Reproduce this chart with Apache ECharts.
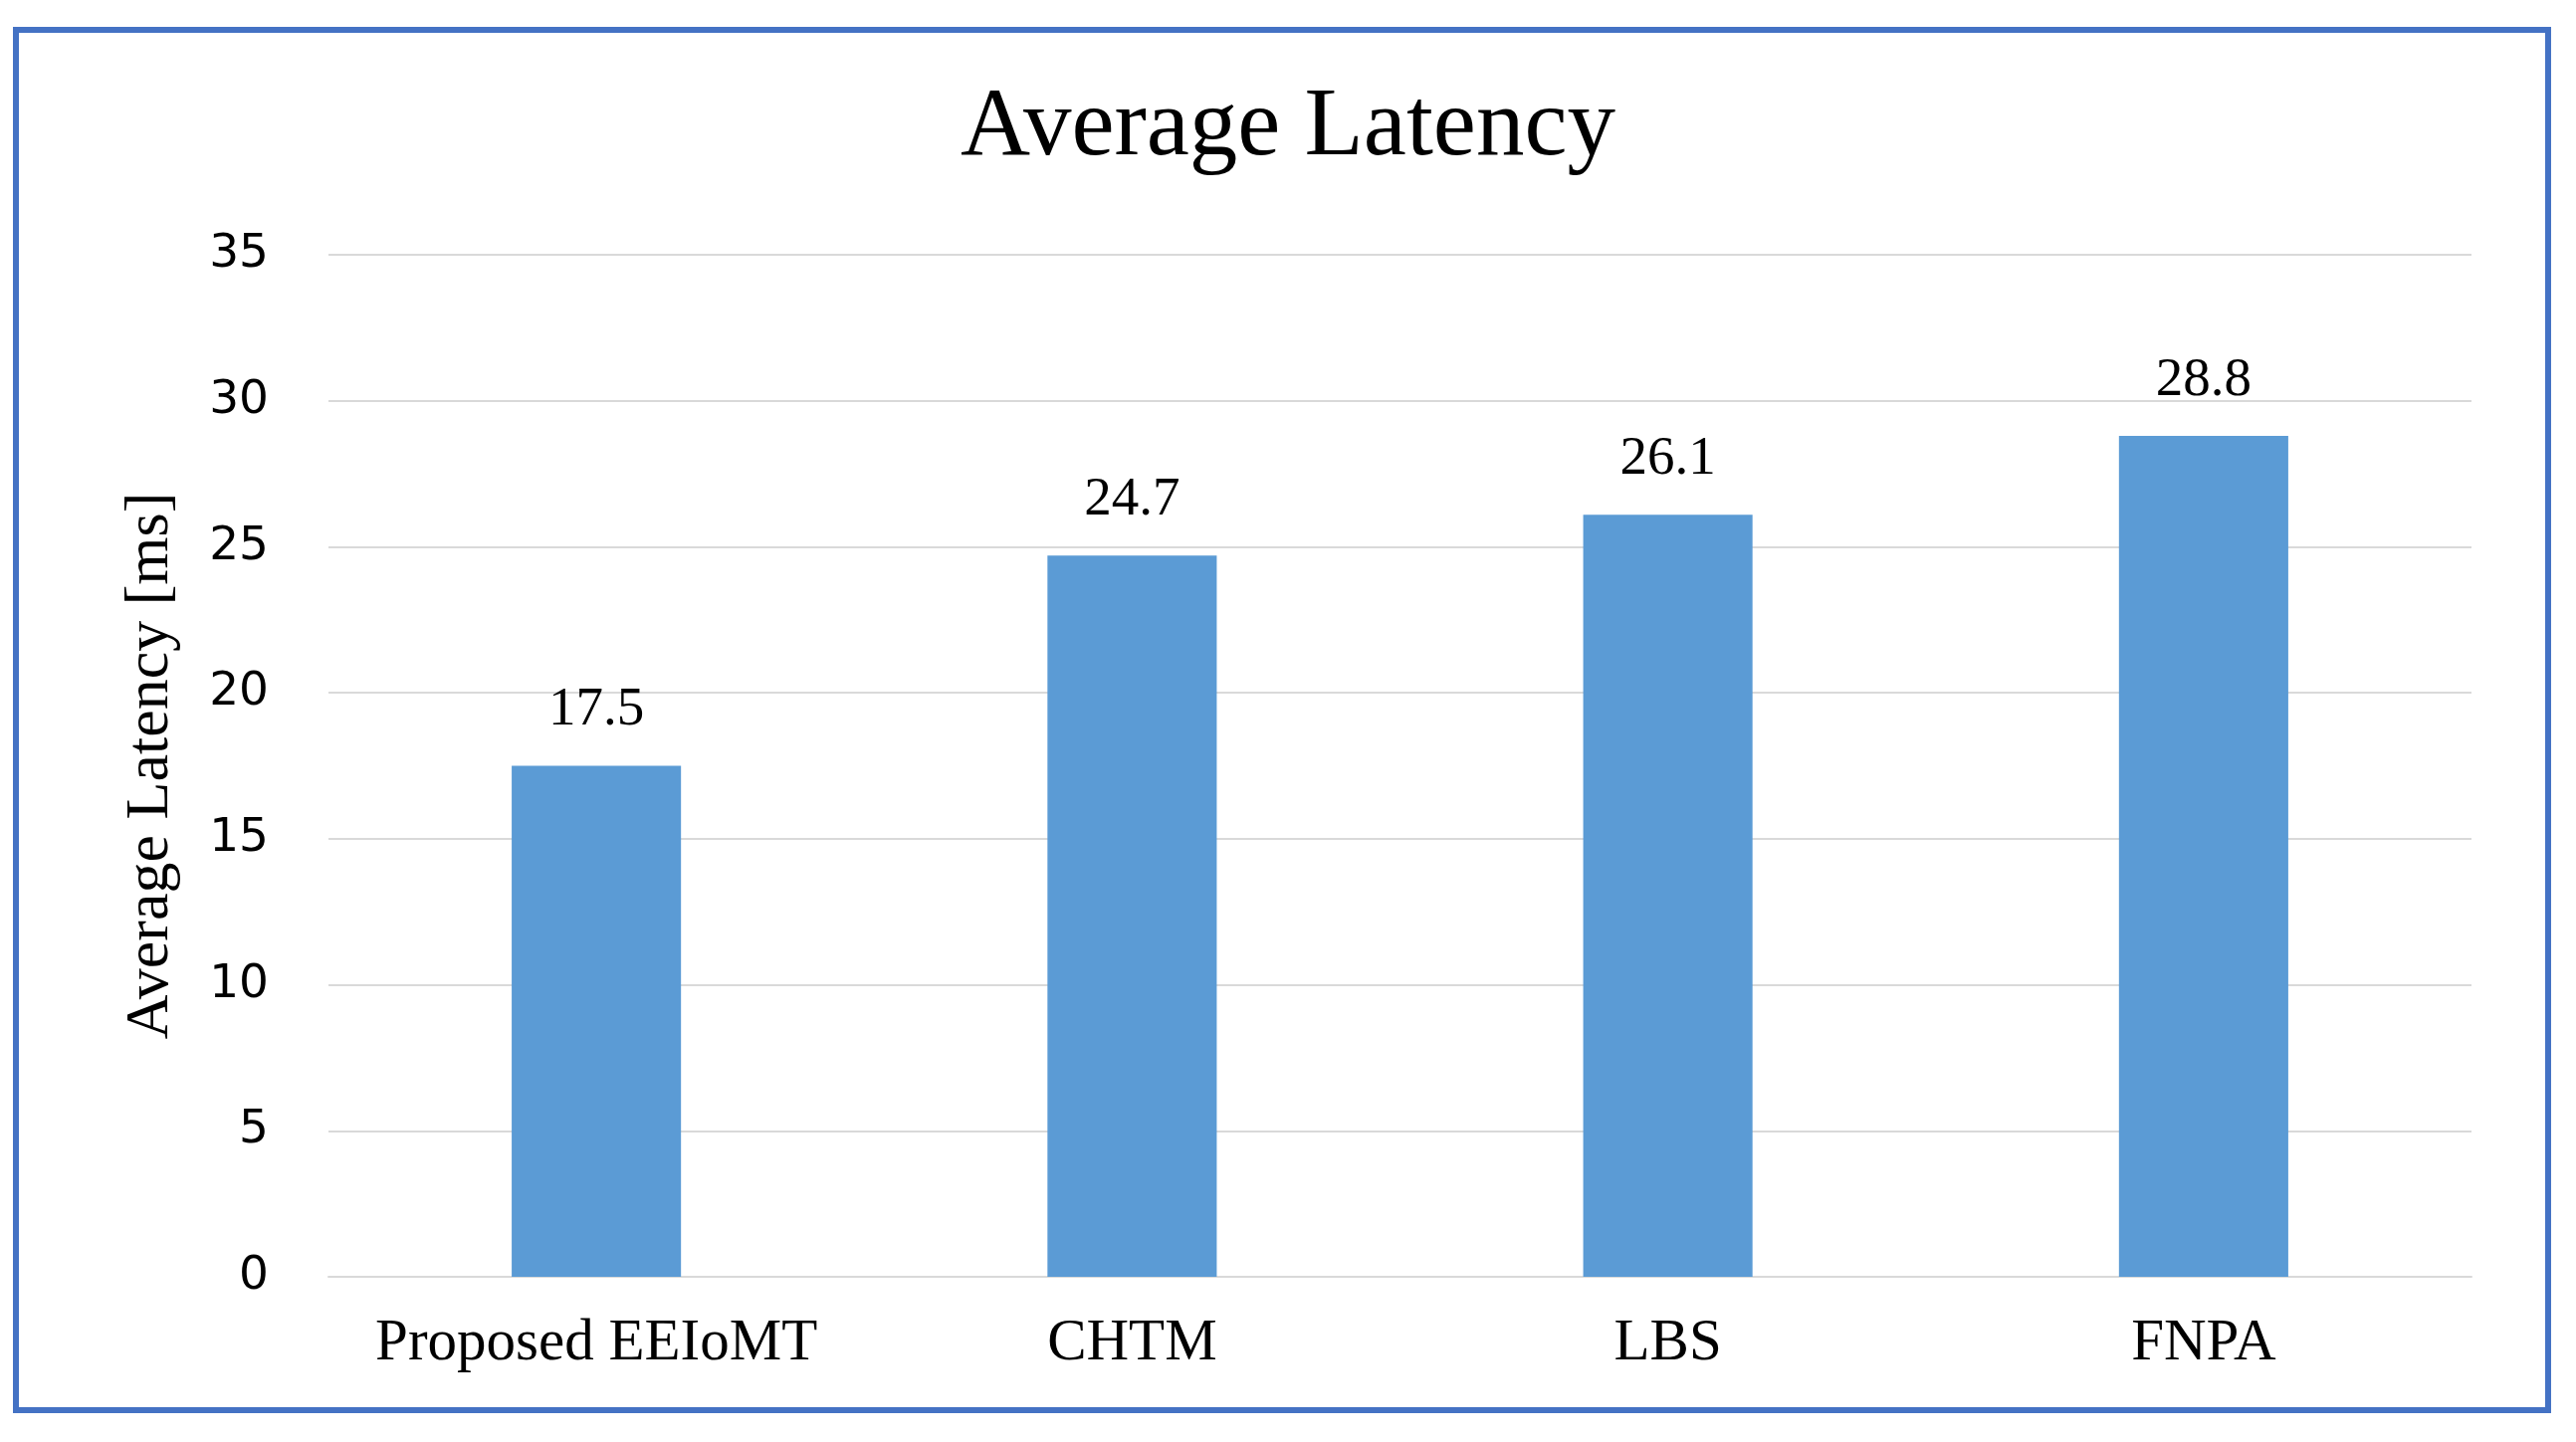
<!DOCTYPE html>
<html>
<head>
<meta charset="utf-8">
<script src="https://cdn.jsdelivr.net/npm/echarts@6/dist/echarts.min.js"></script>
<style>html,body{margin:0;padding:0;background:#fff}#chart{width:2588px;height:1449px}</style>
</head>
<body>
<div id="chart"></div>
<script>
const categories = ['Proposed EEIoMT', 'CHTM', 'LBS', 'FNPA'];
const latencyValues = [17.5, 24.7, 26.1, 28.8];
const yTicks = { min: 0, max: 35, interval: 5 };
const titleText = 'Average Latency';
const yAxisName = 'Average Latency [ms]';

const chart = echarts.init(document.getElementById('chart'));
const serif = '"Liberation Serif", "Times New Roman", serif';
chart.setOption({
  backgroundColor: '#ffffff',
  animation: false,
  graphic: [{
    type: 'rect',
    shape: { x: 16, y: 30, width: 2544, height: 1387 },
    style: { fill: 'none', stroke: '#4472C4', lineWidth: 6 },
    z: 100
  }],
  title: {
    text: titleText,
    left: 'center',
    top: 76,
    textStyle: { fontFamily: serif, fontSize: 97, fontWeight: 'normal', color: '#000' }
  },
  grid: { left: 330, right: 105, top: 256, bottom: 166 },
  xAxis: {
    type: 'category',
    data: categories,
    axisLine: { show: true, lineStyle: { color: '#D9D9D9', width: 2 } },
    axisTick: { show: false },
    axisLabel: { interval: 0, fontFamily: serif, fontSize: 59, color: '#000', margin: 38 }
  },
  yAxis: {
    type: 'value',
    min: yTicks.min,
    max: yTicks.max,
    interval: yTicks.interval,
    name: yAxisName,
    nameLocation: 'middle',
    nameGap: 147,
    nameTextStyle: { fontFamily: serif, fontSize: 62, color: '#000' },
    axisLine: { show: false },
    axisTick: { show: false },
    splitLine: { lineStyle: { color: '#D9D9D9', width: 2 } },
    axisLabel: { fontFamily: '"DejaVu Sans", Verdana, sans-serif', fontSize: 47, color: '#000', margin: 60 }
  },
  series: [{
    type: 'bar',
    data: latencyValues,
    barWidth: '31.6%',
    itemStyle: { color: '#5B9BD5' },
    label: {
      show: true,
      position: 'top',
      distance: 28,
      fontFamily: serif,
      fontSize: 55,
      color: '#000',
      formatter: p => p.value.toFixed(1)
    }
  }]
});
</script>
</body>
</html>
